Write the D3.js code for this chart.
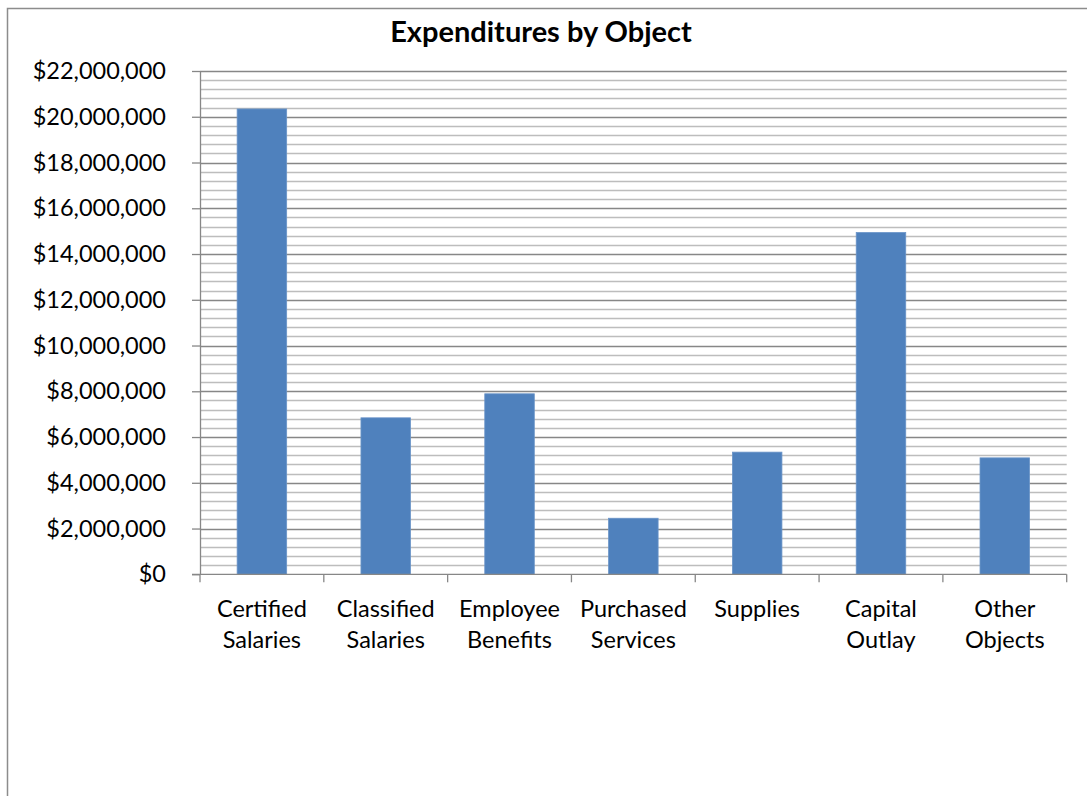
<!DOCTYPE html>
<html>
<head>
<meta charset="utf-8">
<script src="https://cdn.jsdelivr.net/npm/d3@7"></script>
<style>
  body { margin: 0; background: #fff; }
  svg { display: block; font-family: Lato, "Open Sans", sans-serif; }
</style>
</head>
<body>
<script>
// chart data
var categories = ["Certified Salaries", "Classified Salaries", "Employee Benefits",
                  "Purchased Services", "Supplies", "Capital Outlay", "Other Objects"];
var amounts = [20340000, 6840000, 7890000, 2450000, 5340000, 14940000, 5090000];
var majorTicks = [0, 2000000, 4000000, 6000000, 8000000, 10000000, 12000000,
                  14000000, 16000000, 18000000, 20000000, 22000000];
var minorStep = 400000;

var w = 1087;
var h = 796;
var plotLeft = 200, plotRight = 1066.7, plotTop = 71, plotBottom = 574.3;

var svg = d3.select("body")
            .append("svg")
            .attr("width", w)
            .attr("height", h);

// outer frame (left and top edges only show in the picture)
svg.append("path")
   .attr("d", "M7.5," + h + "V8.5H" + w)
   .attr("fill", "none")
   .attr("stroke", "#8c8c8c")
   .attr("stroke-width", 1.5);

var xScale = d3.scaleBand()
               .domain(categories)
               .range([plotLeft, plotRight])
               .paddingInner(0.6)
               .paddingOuter(0.3);

var yScale = d3.scaleLinear()
               .domain([0, 22000000])
               .range([plotBottom, plotTop]);

/****Gridlines****/
var minorTicks = d3.range(0, 22000000, minorStep).filter(function(v) {
  return v % 2000000 !== 0;
});
svg.append("g")
   .selectAll("line")
   .data(minorTicks)
   .enter()
   .append("line")
   .attr("x1", plotLeft)
   .attr("x2", plotRight)
   .attr("y1", function(d) { return Math.round(yScale(d)) + 0.5; })
   .attr("y2", function(d) { return Math.round(yScale(d)) + 0.5; })
   .attr("stroke", "#bdbdbd")
   .attr("stroke-width", 1.3);

svg.append("g")
   .selectAll("line")
   .data(majorTicks.slice(1))
   .enter()
   .append("line")
   .attr("x1", plotLeft)
   .attr("x2", plotRight)
   .attr("y1", function(d) { return Math.round(yScale(d)) + 0.5; })
   .attr("y2", function(d) { return Math.round(yScale(d)) + 0.5; })
   .attr("stroke", "#878787")
   .attr("stroke-width", 1.3);

/****Bars****/
svg.selectAll("rect.bar")
   .data(amounts)
   .enter()
   .append("rect")
   .attr("class", "bar")
   .attr("x", function(d, i) { return xScale(categories[i]); })
   .attr("y", function(d) { return yScale(d); })
   .attr("width", xScale.bandwidth())
   .attr("height", function(d) { return plotBottom - yScale(d); })
   .attr("fill", "#4f81bd")
   .attr("stroke", "#6a94c8")
   .attr("stroke-width", 0.8);

/****Axes****/
var yAxis = d3.axisLeft(yScale)
              .tickValues(majorTicks)
              .tickFormat(d3.format("$,.0f"))
              .tickSize(8)
              .tickSizeOuter(0)
              .tickPadding(26);

var gy = svg.append("g")
            .attr("transform", "translate(" + plotLeft + ",0)")
            .call(yAxis);
gy.select(".domain").attr("stroke", "#878787").attr("stroke-width", 1.3);
gy.selectAll(".tick line").attr("stroke", "#878787").attr("stroke-width", 1.3);
gy.selectAll(".tick text")
  .attr("font-family", "Lato, sans-serif")
  .attr("font-size", "23.5px")
  .attr("fill", "#000");

// category axis: ticks sit on the boundaries between categories
var step = xScale.step();
var bounds = d3.range(categories.length + 1).map(function(i) { return plotLeft + i * step; });
var gx = svg.append("g");
gx.append("line")
  .attr("x1", plotLeft - 8).attr("x2", plotRight)
  .attr("y1", plotBottom).attr("y2", plotBottom)
  .attr("stroke", "#878787").attr("stroke-width", 1.3);
gx.selectAll("line.tk")
  .data(bounds)
  .enter()
  .append("line")
  .attr("class", "tk")
  .attr("x1", function(d) { return d; })
  .attr("x2", function(d) { return d; })
  .attr("y1", plotBottom)
  .attr("y2", plotBottom + 8)
  .attr("stroke", "#878787").attr("stroke-width", 1.3);

gx.selectAll("text")
  .data(categories)
  .enter()
  .append("text")
  .attr("x", function(d) { return xScale(d) + xScale.bandwidth() / 2; })
  .attr("y", 617)
  .attr("text-anchor", "middle")
  .attr("font-size", "23.5px")
  .attr("fill", "#000")
  .each(function(d) {
    var words = d.split(" ");
    var t = d3.select(this);
    words.forEach(function(wd, k) {
      t.append("tspan")
       .attr("x", xScale(d) + xScale.bandwidth() / 2)
       .attr("dy", k === 0 ? 0 : 31)
       .text(wd);
    });
  });

/****Title****/
svg.append("text")
   .attr("x", 541)
   .attr("y", 42)
   .attr("text-anchor", "middle")
   .attr("font-size", "29px")
   .attr("font-weight", "bold")
   .attr("fill", "#000")
   .text("Expenditures by Object");
</script>
</body>
</html>
